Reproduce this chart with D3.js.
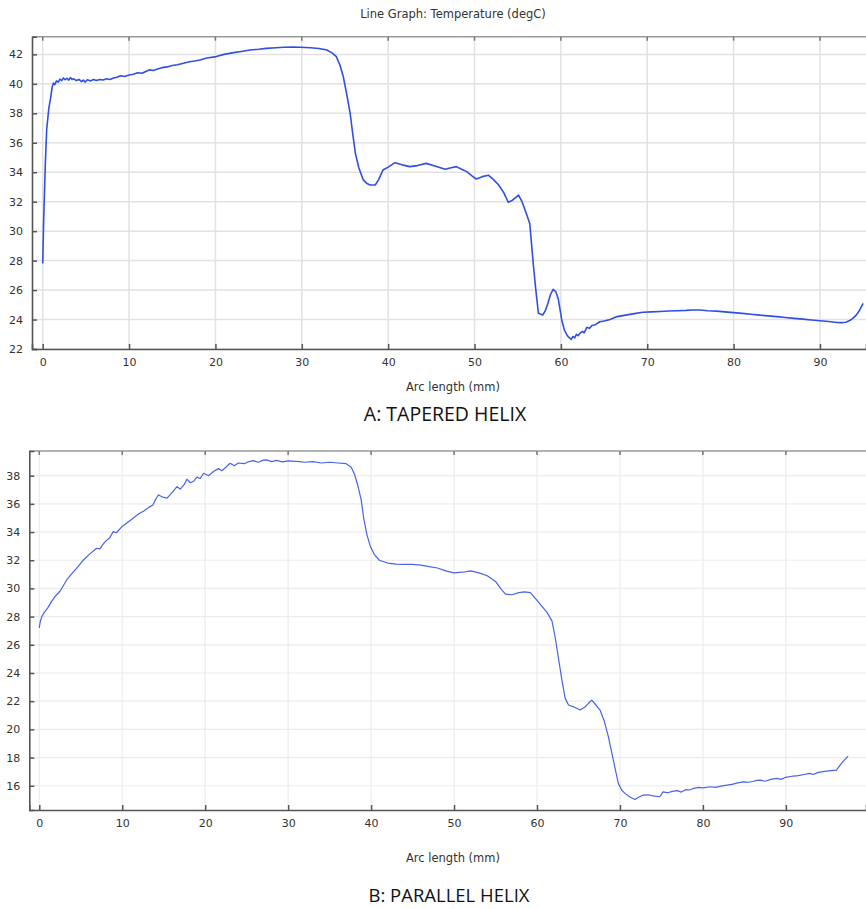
<!DOCTYPE html>
<html><head><meta charset="utf-8">
<script src="https://cdn.jsdelivr.net/npm/d3@7"></script>
<style>
html,body{margin:0;padding:0;background:#fff;}
svg{display:block;}
</style></head>
<body>
<svg id="chart" width="866" height="909"></svg>
<script>
// ---- Data ----
const chartTitle = "Line Graph: Temperature (degC)";
const xAxisLabel = "Arc length (mm)";
const panelLabels = ["A: TAPERED HELIX", "B: PARALLEL HELIX"];

const xTicks = [0, 10, 20, 30, 40, 50, 60, 70, 80, 90];
const taperedYTicks = [22, 24, 26, 28, 30, 32, 34, 36, 38, 40, 42];
const parallelYTicks = [16, 18, 20, 22, 24, 26, 28, 30, 32, 34, 36, 38];

const taperedArc = [0,0.1,0.3,0.46,0.7,0.93,1.1,1.25,1.4,1.6,1.8,2.0,2.2,2.4,2.6,2.8,3.0,3.2,3.4,3.6,3.9,4.2,4.5,4.7,4.9,5.2,5.5,5.9,6.2,6.6,7.0,7.4,7.8,8.2,8.6,9.0,9.5,10.0,10.5,11.0,11.5,12.0,12.4,12.8,13.3,13.8,14.4,15.0,15.6,16.3,17.0,17.6,18.2,19.0,20.1,21.0,22.1,23.0,24.0,25.0,25.9,27.0,27.9,29.0,29.8,31.0,32.0,32.9,33.5,34.0,34.4,34.8,35.2,35.6,35.9,36.2,36.6,37.1,37.5,37.9,38.5,38.9,39.4,40.0,40.8,41.6,42.5,43.4,44.4,45.5,46.6,47.3,47.9,48.5,49.1,49.7,50.2,50.9,51.6,52.2,52.8,53.4,53.9,54.4,55.1,55.5,56.0,56.4,56.8,57.1,57.4,57.9,58.2,58.5,58.8,59.1,59.4,59.7,60.1,60.4,60.7,60.9,61.2,61.4,61.6,61.8,62.0,62.2,62.5,62.7,63.0,63.3,63.6,64.0,64.5,65.0,65.7,66.5,67.5,68.5,69.5,70.5,71.5,72.5,73.5,74.5,75.3,76.1,77.0,78.0,79.0,80.0,81.0,82.0,83.0,84.0,85.0,86.0,87.0,88.0,89.0,90.0,91.0,92.0,92.5,93.0,93.5,93.8,94.2,94.6,95.0];
const taperedTemp = [27.8,30.5,34.5,36.9,38.3,39.1,39.8,40.05,39.95,40.2,40.12,40.32,40.22,40.4,40.28,40.38,40.25,40.42,40.3,40.34,40.22,40.3,40.15,40.25,40.12,40.28,40.2,40.3,40.22,40.3,40.26,40.34,40.3,40.4,40.45,40.55,40.5,40.6,40.65,40.75,40.72,40.85,40.95,40.9,41.0,41.1,41.15,41.25,41.3,41.4,41.5,41.55,41.62,41.75,41.85,42.0,42.12,42.2,42.3,42.35,42.41,42.45,42.48,42.5,42.48,42.45,42.4,42.3,42.1,41.85,41.3,40.5,39.3,38.0,36.6,35.3,34.3,33.5,33.25,33.13,33.13,33.5,34.15,34.35,34.65,34.5,34.38,34.45,34.6,34.4,34.2,34.3,34.38,34.2,34.04,33.75,33.54,33.7,33.8,33.5,33.13,32.6,31.96,32.1,32.45,32.0,31.2,30.5,27.8,26.0,24.42,24.31,24.6,25.1,25.7,26.05,25.9,25.4,23.97,23.3,22.95,22.8,22.65,22.85,22.75,23.0,22.9,23.06,23.2,23.1,23.47,23.4,23.6,23.65,23.85,23.9,24.0,24.2,24.3,24.4,24.49,24.52,24.55,24.58,24.6,24.62,24.65,24.65,24.6,24.57,24.52,24.47,24.42,24.36,24.3,24.25,24.2,24.14,24.08,24.03,23.97,23.92,23.87,23.8,23.79,23.82,23.95,24.08,24.3,24.65,25.1];

const parallelArc = [0,0.1,0.3,0.6,1.0,1.5,2.0,2.5,3.3,4.0,4.6,5.3,6.0,6.9,7.3,7.9,8.5,8.9,9.3,10.0,11.3,12.0,12.6,13.2,13.7,14.0,14.35,14.8,15.4,16.0,16.6,17.0,17.5,17.8,18.2,18.6,19.0,19.4,19.8,20.4,21.0,21.6,22.0,22.5,23.0,23.5,24.0,24.7,25.3,25.8,26.4,27.0,27.4,28.0,28.6,29.3,30.0,31.4,32.0,33.0,34.0,35.0,36.0,37.0,37.6,38.0,38.4,38.8,39.1,39.5,39.9,40.4,41.0,42.0,43.0,44.0,45.0,46.0,47.0,48.0,49.0,50.0,51.0,52.0,53.0,54.0,55.0,55.6,56.2,57.0,57.8,58.5,59.2,59.8,60.5,61.2,61.8,62.2,62.6,63.0,63.4,63.8,64.4,65.2,65.8,66.2,66.6,67.0,67.6,68.1,68.6,69.2,69.8,70.2,70.6,71.2,71.8,72.3,72.8,73.4,74.0,74.8,75.2,75.8,76.3,76.9,77.4,77.9,78.4,78.9,79.5,80.0,80.9,81.5,82.2,82.9,83.5,84.2,84.9,85.5,86.0,86.5,86.9,87.5,88.2,88.9,89.4,90.0,90.9,91.5,92.2,92.9,93.3,93.9,94.9,95.5,96.1,96.7,97.1,97.5];
const parallelTemp = [27.2,27.6,28.0,28.3,28.6,29.1,29.5,29.8,30.6,31.1,31.5,32.0,32.4,32.85,32.8,33.3,33.6,34.03,33.95,34.4,34.98,35.3,35.5,35.75,35.92,36.3,36.63,36.5,36.4,36.8,37.22,37.05,37.4,37.75,37.5,37.6,37.9,37.8,38.17,38.0,38.29,38.5,38.35,38.6,38.88,38.7,38.9,38.85,39.0,39.07,38.95,39.1,39.12,39.0,39.08,38.98,39.05,39.0,38.95,39.0,38.9,38.95,38.9,38.85,38.6,38.1,37.3,36.3,35.0,33.8,33.0,32.4,32.0,31.8,31.72,31.7,31.7,31.65,31.55,31.45,31.25,31.1,31.15,31.25,31.1,30.9,30.5,30.0,29.6,29.55,29.7,29.75,29.7,29.3,28.8,28.3,27.7,26.5,25.0,23.5,22.2,21.73,21.6,21.37,21.6,21.85,22.08,21.8,21.37,20.6,19.48,17.82,16.17,15.7,15.46,15.2,15.03,15.2,15.34,15.36,15.28,15.22,15.57,15.5,15.6,15.65,15.55,15.72,15.7,15.82,15.88,15.85,15.93,15.88,15.97,16.05,16.1,16.2,16.28,16.25,16.3,16.38,16.4,16.32,16.45,16.52,16.45,16.6,16.69,16.72,16.8,16.88,16.8,16.95,17.04,17.08,17.11,17.59,17.85,18.1];

// ---- Drawing ----
const svg = d3.select("#chart");
const FONT = "'DejaVu Sans', sans-serif";

svg.append("text")
  .attr("x", 453).attr("y", 18)
  .attr("text-anchor", "middle")
  .attr("font-family", FONT).attr("font-size", 11.5)
  .attr("fill", "#333")
  .text(chartTitle);

function panel(cfg) {
  const g = svg.append("g");
  const x = d3.scaleLinear().domain(cfg.xDomain).range([cfg.left, cfg.right]);
  const y = d3.scaleLinear().domain(cfg.yDomain).range([cfg.bottom, cfg.top]);

  // grid
  g.append("g").selectAll("line.v").data(xTicks).join("line")
    .attr("x1", d => x(d)).attr("x2", d => x(d))
    .attr("y1", cfg.top).attr("y2", cfg.bottom)
    .attr("stroke", cfg.gridColor).attr("stroke-width", cfg.gridWidth);
  g.append("g").selectAll("line.h").data(cfg.yTicks).join("line")
    .attr("x1", cfg.left).attr("x2", cfg.right)
    .attr("y1", d => y(d)).attr("y2", d => y(d))
    .attr("stroke", cfg.gridColor).attr("stroke-width", cfg.gridWidth);

  // top frame
  g.append("line").attr("x1", cfg.left).attr("x2", cfg.right)
    .attr("y1", cfg.top).attr("y2", cfg.top)
    .attr("stroke", "#999").attr("stroke-width", 1.5);
  g.append("g").selectAll("line").data(xTicks).join("line")
    .attr("x1", d => x(d)).attr("x2", d => x(d))
    .attr("y1", cfg.top).attr("y2", cfg.top + 4)
    .attr("stroke", "#777").attr("stroke-width", 1.5);

  // axes
  const xAxis = d3.axisBottom(x).tickValues(xTicks).tickSize(-5).tickPadding(9).tickFormat(d3.format("d"));
  const gx = g.append("g").attr("transform", `translate(0,${cfg.bottom})`).call(xAxis);
  const yAxis = d3.axisLeft(y).tickValues(cfg.yTicks).tickSize(-5).tickPadding(9).tickFormat(d3.format("d"));
  const gy = g.append("g").attr("transform", `translate(${cfg.left},0)`).call(yAxis);
  [gx, gy].forEach(a => {
    a.select(".domain").attr("stroke", "#555").attr("stroke-width", 1.6);
    a.selectAll(".tick line").attr("stroke", "#555").attr("stroke-width", 1.5);
    a.selectAll(".tick text").attr("fill", "#333").attr("font-family", FONT).attr("font-size", 11);
  });

  // line
  const pts = cfg.xs.map((d, i) => [d, cfg.ys[i]]);
  g.append("path").datum(pts)
    .attr("fill", "none").attr("stroke", cfg.lineColor)
    .attr("stroke-width", cfg.lineWidth).attr("stroke-linejoin", "round")
    .attr("d", d3.line().x(d => x(d[0])).y(d => y(d[1])));

  // x label
  svg.append("text").attr("x", 453).attr("y", cfg.xLabelY)
    .attr("text-anchor", "middle").attr("font-family", FONT).attr("font-size", 11.5)
    .attr("fill", "#333").text(xAxisLabel);
  svg.append("text").attr("x", cfg.panelX).attr("y", cfg.panelY)
    .attr("text-anchor", "middle").attr("font-family", "'Open Sans', sans-serif").attr("font-size", cfg.panelSize)
    .attr("fill", "#111").text(cfg.panelLabel);
}

panel({
  left: 32, right: 866, top: 36.7, bottom: 349,
  xDomain: [-1.24, 95.33], yDomain: [22, 43.2],
  yTicks: taperedYTicks, xs: taperedArc, ys: taperedTemp,
  gridColor: "#e2e2e2", gridWidth: 1.5,
  lineColor: "#2f4fe6", lineWidth: 1.6,
  xLabelY: 391, panelLabel: panelLabels[0], panelX: 445, panelY: 421, panelSize: 19.5
});

panel({
  left: 29.3, right: 866, top: 451, bottom: 810,
  xDomain: [-1.205, 99.66], yDomain: [14.28, 39.75],
  yTicks: parallelYTicks, xs: parallelArc, ys: parallelTemp,
  gridColor: "#ececec", gridWidth: 1.2,
  lineColor: "#4763ea", lineWidth: 1.2,
  xLabelY: 862, panelLabel: panelLabels[1], panelX: 449, panelY: 902, panelSize: 18.5
});
</script>
</body></html>
